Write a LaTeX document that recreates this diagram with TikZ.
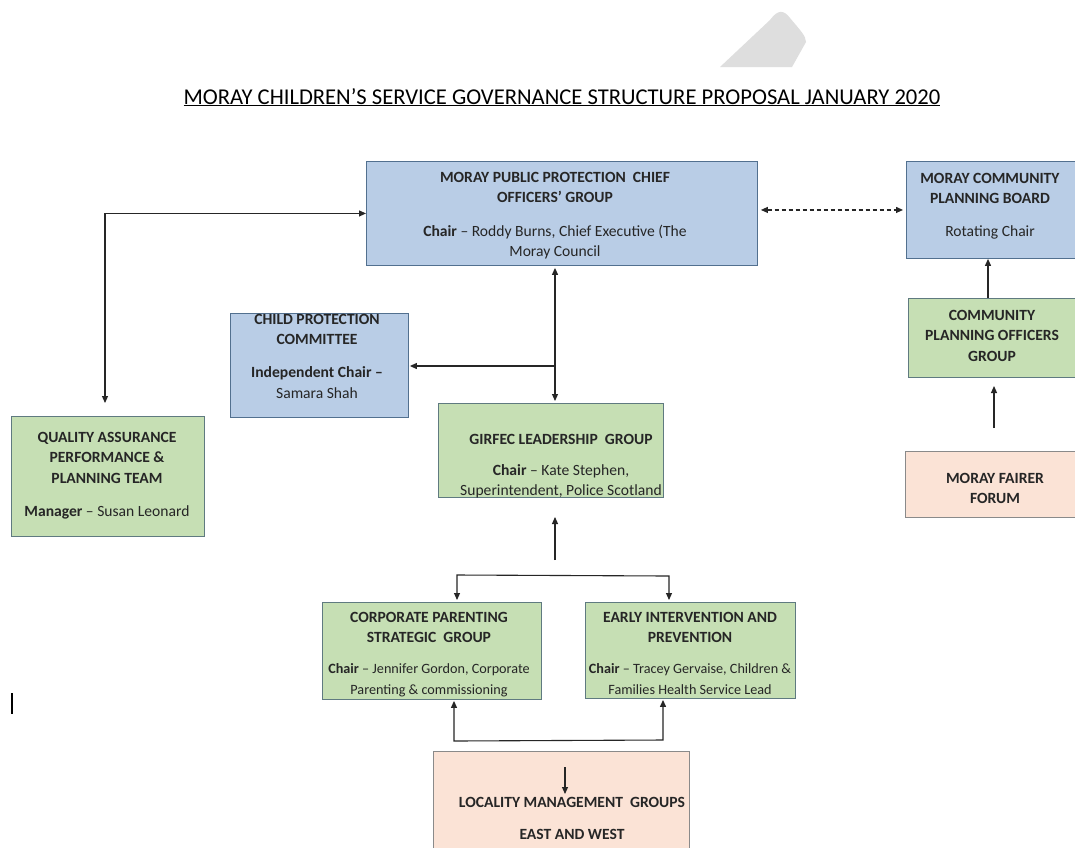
\documentclass[tikz,border=0pt]{standalone}
\usepackage{fontspec}
\setmainfont{Carlito}
\usetikzlibrary{arrows.meta}
\definecolor{bluefill}{HTML}{B9CDE6}
\definecolor{blueedge}{HTML}{52708F}
\definecolor{greenfill}{HTML}{C6DFB4}
\definecolor{greenedge}{HTML}{5F7A80}
\definecolor{peachfill}{HTML}{FBE3D6}
\definecolor{peachedge}{HTML}{8A8A8A}
\definecolor{wm}{HTML}{DEDEDE}
\tikzset{
  box/.style={draw, line width=0.9pt, anchor=north west, inner sep=0pt},
  bluebox/.style={box, fill=bluefill, draw=blueedge},
  greenbox/.style={box, fill=greenfill, draw=greenedge},
  peachbox/.style={box, fill=peachfill, draw=peachedge},
  txt/.style={align=center, font=\fontsize{15.6}{20.5}\selectfont, text=black!85, inner sep=0pt, anchor=north},
  conn/.style={line width=1.1pt, draw=black!85},
  arr/.style={conn, -{Triangle[length=7pt,width=6pt]}},
  dbl/.style={conn, {Triangle[length=7pt,width=6pt]}-{Triangle[length=7pt,width=6pt]}},
}
\newcommand{\smalltxt}{\fontsize{14.2}{20.5}\selectfont}
\begin{document}
\begin{tikzpicture}[x=1pt,y=-1pt]
\useasboundingbox (0,0) rectangle (1075,847);
\fill[white] (0,0) rectangle (1075,847);
% watermark shape
\fill[wm] (720,67) -- (770,20) .. controls (778,9) and (784,10) .. (790,18) .. controls (800,30) and (806,36) .. (806,42) -- (792,67) -- cycle;
% title
\node[inner sep=0pt, font=\fontsize{22.6}{24}\selectfont, anchor=base] (title) at (562,104) {\underline{MORAY CHILDREN’S SERVICE GOVERNANCE STRUCTURE PROPOSAL JANUARY 2020}};

% boxes
\node[bluebox, minimum width=391pt, minimum height=104pt] (pp) at (366,161) {};
\node[bluebox, minimum width=169pt, minimum height=97pt] (cpb) at (906,161) {};
\node[greenbox, minimum width=167pt, minimum height=79pt] (cpog) at (908,298) {};
\node[peachbox, minimum width=170pt, minimum height=66pt] (mff) at (905,451) {};
\node[bluebox, minimum width=178pt, minimum height=104pt] (cpc) at (230,313) {};
\node[greenbox, minimum width=193pt, minimum height=120pt] (qa) at (11,416) {};
\node[greenbox, minimum width=225pt, minimum height=94pt] (gir) at (438,403) {};
\node[greenbox, minimum width=219pt, minimum height=97pt] (cp) at (322,602) {};
\node[greenbox, minimum width=210pt, minimum height=96pt] (eip) at (585,602) {};
\node[peachbox, minimum width=256pt, minimum height=100pt] (lmg) at (433,751) {};

% texts
\node[txt] (ppt) at (555,172) {\textbf{MORAY PUBLIC PROTECTION\ \ CHIEF}\\\textbf{OFFICERS’ GROUP}\\[13pt]\textbf{Chair} – Roddy Burns, Chief Executive (The\\Moray Council};
\node[txt] (cpbt) at (990,173) {\textbf{MORAY COMMUNITY}\\\textbf{PLANNING BOARD}\\[12.5pt]Rotating Chair};
\node[txt] (cpogt) at (992,310) {\textbf{COMMUNITY}\\\textbf{PLANNING OFFICERS}\\\textbf{GROUP}};
\node[txt] (mfft) at (995,473) {\textbf{MORAY FAIRER}\\\textbf{FORUM}};
\node[txt] (cpct) at (317,314) {\textbf{CHILD PROTECTION}\\\textbf{COMMITTEE}\\[12.5pt]\textbf{Independent Chair –}\\Samara Shah};
\node[txt] (qat) at (107,432) {\textbf{QUALITY ASSURANCE}\\\textbf{PERFORMANCE \&}\\\textbf{PLANNING TEAM}\\[12.5pt]\textbf{Manager} – Susan Leonard};
\node[txt] (girt) at (561,434) {\textbf{GIRFEC LEADERSHIP\ \ GROUP}\\[10.5pt]\textbf{Chair} – Kate Stephen,\\Superintendent, Police Scotland};
\node[txt] (cpt) at (429,612) {\textbf{CORPORATE PARENTING}\\\textbf{STRATEGIC\ \ GROUP}\\[10.5pt]{\smalltxt\textbf{Chair} – Jennifer Gordon, Corporate}\\{\smalltxt Parenting \& commissioning}};
\node[txt] (eipt) at (690,612) {\textbf{EARLY INTERVENTION AND}\\\textbf{PREVENTION}\\[10.5pt]{\smalltxt\textbf{Chair} – Tracey Gervaise, Children \&}\\{\smalltxt Families Health Service Lead}};
\node[txt] (lmgt) at (572,797) {\textbf{LOCALITY MANAGEMENT\ \ GROUPS}\\[11.5pt]\textbf{EAST AND WEST}};

% coordinates
\coordinate (c555) at (555,0);
\coordinate (c988) at (988,0);
\coordinate (c105) at (105,0);
\coordinate (j1) at (555,366);
\coordinate (f1) at (994,428);
\coordinate (f2) at (994,386);
\coordinate (g1) at (555,560);
\coordinate (g2) at (555,517);
\coordinate (e1) at (457,575);
\coordinate (e2) at (669,576);
\coordinate (b1) at (454,741);
\coordinate (b2) at (663,740);
\coordinate (l1) at (565,767);
\coordinate (l2) at (565,794);
\coordinate (cur1) at (12,693);
\coordinate (cur2) at (12,714);

% connectors
\draw[dbl] (pp.west) -| ([yshift=13pt]qa.north -| c105);
\draw[dbl, dashed, dash pattern=on 4pt off 3pt] ([xshift=3pt]pp.east |- cpb.west) -- ([xshift=-3pt]cpb.west);
\draw[dbl] ([yshift=-2pt]pp.south -| c555) -- ([yshift=2pt]gir.north -| c555);
\draw[arr] (j1) -- ([xshift=1pt]cpc.east |- j1);
\draw[arr] (cpog.north -| c988) -- (cpb.south -| c988);
\draw[arr] (f1) -- (f2);
\draw[arr] (g1) -- (g2);
\draw[dbl] ([yshift=2pt]cp.north -| e1) -- (e1) -- (e2) -- ([yshift=2pt]eip.north -| e2);
\draw[dbl] ([yshift=-1pt]cp.south -| b1) -- (b1) -- (b2) -- ([yshift=-1pt]eip.south -| b2);
\draw[arr] (l1) -- (l2);
\draw[line width=2pt] (cur1) -- (cur2);
\end{tikzpicture}
\end{document}
